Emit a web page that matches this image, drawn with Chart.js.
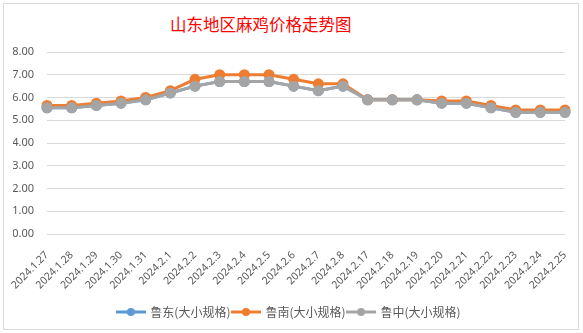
<!DOCTYPE html>
<html>
<head>
<meta charset="utf-8">
<script src="https://cdn.jsdelivr.net/npm/chart.js"></script>
<style>
  body { margin: 0; background: #fff; }
  #wrap { position: relative; width: 583px; height: 333px; }
  #frame { position: absolute; left: 3px; top: 3px; width: 574px; height: 325px; border: 1px solid #d9d9d9; }
  #title {
    position: absolute; left: 170px; top: 12px;
    font-family: "Noto Sans CJK SC", serif; font-size: 16.5px; color: #ff0000;
    white-space: nowrap;
  }
  canvas { position: absolute; left: 0; top: 0; }
</style>
</head>
<body>
<div id="wrap">
  <div id="frame"></div>
  <div id="title">山东地区麻鸡价格走势图</div>
  <canvas id="chart" width="583" height="333"></canvas>
</div>
<script>
// dates and prices
const dates = ['2024.1.27', '2024.1.28', '2024.1.29', '2024.1.30', '2024.1.31', '2024.2.1', '2024.2.2',
  '2024.2.3', '2024.2.4', '2024.2.5', '2024.2.6', '2024.2.7', '2024.2.8', '2024.2.17', '2024.2.18',
  '2024.2.19', '2024.2.20', '2024.2.21', '2024.2.22', '2024.2.23', '2024.2.24', '2024.2.25'];
const ludong = [5.55, 5.55, 5.65, 5.75, 5.9, 6.2, 6.5, 6.7, 6.7, 6.7, 6.5, 6.3, 6.5, 5.9, 5.9, 5.9, 5.75, 5.75, 5.55, 5.35, 5.35, 5.35];
const lunan = [5.65, 5.65, 5.75, 5.85, 6.0, 6.3, 6.8, 7.0, 7.0, 7.0, 6.8, 6.6, 6.6, 5.9, 5.9, 5.9, 5.85, 5.85, 5.65, 5.45, 5.45, 5.45];
const luzhong = [5.55, 5.55, 5.65, 5.75, 5.9, 6.2, 6.5, 6.7, 6.7, 6.7, 6.5, 6.3, 6.5, 5.9, 5.9, 5.9, 5.75, 5.75, 5.55, 5.35, 5.35, 5.35];
const seriesNames = ['鲁东(大小规格)', '鲁南(大小规格)', '鲁中(大小规格)'];
const yTicks = [0, 1, 2, 3, 4, 5, 6, 7, 8];

const colors = ['#5b9bd5', '#ed7d31', '#a5a5a5'];
const textColor = '#595959';

// small line-with-dot swatch for the legend
function legendSwatch(color) {
  const c = document.createElement('canvas');
  c.width = 30;
  c.height = 10;
  const ctx = c.getContext('2d');
  ctx.strokeStyle = color;
  ctx.lineWidth = 3;
  ctx.beginPath();
  ctx.moveTo(0, 5);
  ctx.lineTo(30, 5);
  ctx.stroke();
  ctx.fillStyle = color;
  ctx.beginPath();
  ctx.arc(15, 5, 4, 0, Math.PI * 2);
  ctx.fill();
  return c;
}

function makeSet(i, data, order) {
  return {
    label: seriesNames[i],
    data,
    borderColor: colors[i],
    backgroundColor: colors[i],
    pointBackgroundColor: colors[i],
    pointBorderColor: colors[i],
    borderWidth: 3,
    pointRadius: 4,
    pointHoverRadius: 4,
    tension: 0,
    order
  };
}

new Chart(document.getElementById('chart'), {
  type: 'line',
  data: {
    labels: dates,
    datasets: [makeSet(0, ludong, 3), makeSet(1, lunan, 2), makeSet(2, luzhong, 1)]
  },
  options: {
    responsive: false,
    animation: false,
    layout: { padding: { left: 13, right: 18, top: 52, bottom: 5 } },
    plugins: {
      tooltip: { enabled: false },
      legend: {
        position: 'bottom',
        labels: {
          usePointStyle: true,
          pointStyleWidth: 27,
          padding: 2,
          color: textColor,
          font: { family: '"Noto Sans CJK SC", sans-serif', size: 12 },
          sort: (a, b) => a.datasetIndex - b.datasetIndex,
          generateLabels: chart => chart.data.datasets.map((ds, i) => ({
            text: ds.label,
            pointStyle: legendSwatch(colors[i]),
            fillStyle: colors[i],
            strokeStyle: colors[i],
            lineWidth: 0,
            fontColor: textColor,
            hidden: false,
            datasetIndex: i
          }))
        }
      }
    },
    scales: {
      x: {
        grid: { display: false },
        border: { display: false },
        afterFit: scale => {
          scale.height = 70;
          scale.paddingLeft = 0;
          scale.paddingRight = 0;
        },
        ticks: {
          color: textColor,
          font: { family: '"Noto Sans", sans-serif', size: 10.5 },
          minRotation: 45,
          maxRotation: 45,
          autoSkip: false,
          padding: 7
        }
      },
      y: {
        min: 0,
        max: 8,
        afterBuildTicks: axis => { axis.ticks = yTicks.map(v => ({ value: v })); },
        afterFit: scale => { scale.width = 34; },
        grid: { color: '#d9d9d9', lineWidth: 1, drawTicks: false },
        border: { display: false },
        ticks: {
          color: textColor,
          padding: 13,
          font: { family: '"Noto Sans", sans-serif', size: 11 },
          callback: v => v.toFixed(2)
        }
      }
    }
  }
});
</script>
</body>
</html>
